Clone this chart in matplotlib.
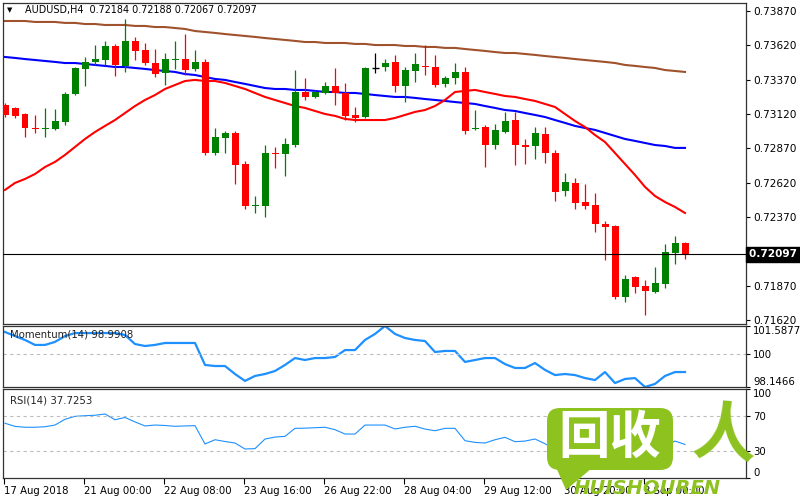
import numpy as np
import matplotlib.pyplot as plt
from matplotlib.patches import FancyBboxPatch, Polygon
from matplotlib.transforms import blended_transform_factory

# AUDUSD H4 candles
opens = [0.73186, 0.73164, 0.73120, 0.73018, 0.73011, 0.73011, 0.73062, 0.73266, 0.73448, 0.73499,
         0.73513, 0.73615, 0.73470, 0.73652, 0.73586, 0.73491, 0.73419, 0.73513, 0.73520, 0.73448,
         0.73499, 0.72836, 0.72945, 0.72982, 0.72756, 0.72450, 0.72450, 0.72836, 0.72829, 0.72894,
         0.73280, 0.73244, 0.73273, 0.73324, 0.73273, 0.73113, 0.73098, 0.73455, 0.73462, 0.73499,
         0.73324, 0.73433, 0.73470, 0.73462, 0.73339, 0.73382, 0.73426, 0.73011, 0.73025, 0.72894,
         0.72989, 0.73076, 0.72894, 0.72887, 0.72975, 0.72836, 0.72560, 0.72618, 0.72479, 0.72458,
         0.72319, 0.72305, 0.71788, 0.71933, 0.71868, 0.71824, 0.71883, 0.72108, 0.72184]
highs = [0.73200, 0.73171, 0.73127, 0.73113, 0.73164, 0.73157, 0.73280, 0.73462, 0.73535, 0.73622,
         0.73652, 0.73630, 0.73812, 0.73681, 0.73637, 0.73593, 0.73564, 0.73652, 0.73702, 0.73586,
         0.73520, 0.73018, 0.72996, 0.72996, 0.72778, 0.72523, 0.72894, 0.72880, 0.72945, 0.73440,
         0.73382, 0.73295, 0.73353, 0.73455, 0.73346, 0.73171, 0.73462, 0.73564, 0.73520, 0.73550,
         0.73462, 0.73564, 0.73622, 0.73550, 0.73397, 0.73491, 0.73462, 0.73149, 0.73040, 0.73047,
         0.73135, 0.73135, 0.72938, 0.73025, 0.73025, 0.72858, 0.72691, 0.72654, 0.72610, 0.72545,
         0.72341, 0.72312, 0.71948, 0.71941, 0.71912, 0.72006, 0.72174, 0.72232, 0.72188]
lows = [0.73098, 0.73091, 0.72953, 0.72982, 0.72953, 0.73004, 0.73040, 0.73258, 0.73324, 0.73477,
        0.73477, 0.73397, 0.73426, 0.73513, 0.73477, 0.73389, 0.73331, 0.73448, 0.73404, 0.73433,
        0.72822, 0.72822, 0.72836, 0.72610, 0.72428, 0.72399, 0.72370, 0.72727, 0.72669, 0.72880,
        0.73222, 0.73237, 0.73266, 0.73186, 0.73076, 0.73062, 0.73091, 0.73419, 0.73433, 0.73280,
        0.73207, 0.73353, 0.73404, 0.73317, 0.73317, 0.73339, 0.72975, 0.73004, 0.72734, 0.72865,
        0.72982, 0.72749, 0.72756, 0.72793, 0.72763, 0.72487, 0.72523, 0.72428, 0.72428, 0.72261,
        0.72057, 0.71773, 0.71751, 0.71817, 0.71657, 0.71817, 0.71853, 0.72028, 0.72067]
closes = [0.73113, 0.73106, 0.73018, 0.73011, 0.73018, 0.73069, 0.73266, 0.73455, 0.73499, 0.73520,
          0.73615, 0.73477, 0.73652, 0.73579, 0.73491, 0.73411, 0.73520, 0.73520, 0.73440, 0.73499,
          0.72836, 0.72953, 0.72982, 0.72749, 0.72450, 0.72458, 0.72836, 0.72829, 0.72902, 0.73280,
          0.73244, 0.73280, 0.73324, 0.73273, 0.73106, 0.73091, 0.73455, 0.73455, 0.73491, 0.73324,
          0.73440, 0.73484, 0.73462, 0.73331, 0.73382, 0.73426, 0.72996, 0.73018, 0.72894, 0.73004,
          0.73069, 0.72894, 0.72880, 0.72982, 0.72836, 0.72552, 0.72625, 0.72472, 0.72450, 0.72319,
          0.72297, 0.71788, 0.71919, 0.71861, 0.71832, 0.71890, 0.72115, 0.72181, 0.72097]

# moving averages
ma_red = [0.72567, 0.72618, 0.72647, 0.72683, 0.72734, 0.72771, 0.72822, 0.72880, 0.72938, 0.72989,
          0.73033, 0.73076, 0.73127, 0.73178, 0.73222, 0.73258, 0.73302, 0.73331, 0.73360, 0.73368,
          0.73360, 0.73360, 0.73346, 0.73324, 0.73302, 0.73273, 0.73244, 0.73222, 0.73200, 0.73178,
          0.73164, 0.73142, 0.73120, 0.73106, 0.73084, 0.73076, 0.73076, 0.73076, 0.73076, 0.73091,
          0.73113, 0.73135, 0.73149, 0.73178, 0.73222, 0.73280, 0.73288, 0.73295, 0.73280, 0.73266,
          0.73251, 0.73244, 0.73229, 0.73215, 0.73193, 0.73171, 0.73120, 0.73069, 0.73025, 0.72967,
          0.72916, 0.72836, 0.72756, 0.72676, 0.72589, 0.72523, 0.72479, 0.72443, 0.72399]
ma_blue = [0.73535, 0.73528, 0.73520, 0.73513, 0.73506, 0.73499, 0.73491, 0.73491, 0.73484, 0.73477,
           0.73470, 0.73462, 0.73462, 0.73455, 0.73448, 0.73440, 0.73433, 0.73426, 0.73411, 0.73404,
           0.73389, 0.73375, 0.73368, 0.73353, 0.73339, 0.73324, 0.73309, 0.73302, 0.73302, 0.73295,
           0.73295, 0.73288, 0.73280, 0.73280, 0.73273, 0.73273, 0.73266, 0.73258, 0.73251, 0.73244,
           0.73244, 0.73237, 0.73229, 0.73222, 0.73215, 0.73207, 0.73200, 0.73193, 0.73178, 0.73164,
           0.73149, 0.73142, 0.73127, 0.73113, 0.73098, 0.73076, 0.73055, 0.73033, 0.73018, 0.73004,
           0.72982, 0.72960, 0.72938, 0.72924, 0.72909, 0.72894, 0.72887, 0.72873, 0.72873]
ma_brown = [0.73797, 0.73797, 0.73797, 0.73790, 0.73790, 0.73790, 0.73783, 0.73783, 0.73775, 0.73775,
            0.73768, 0.73768, 0.73768, 0.73761, 0.73761, 0.73753, 0.73753, 0.73746, 0.73739, 0.73724,
            0.73717, 0.73710, 0.73702, 0.73695, 0.73688, 0.73681, 0.73673, 0.73666, 0.73659, 0.73652,
            0.73644, 0.73644, 0.73637, 0.73637, 0.73637, 0.73630, 0.73630, 0.73622, 0.73622, 0.73622,
            0.73615, 0.73615, 0.73608, 0.73608, 0.73601, 0.73601, 0.73593, 0.73586, 0.73579, 0.73571,
            0.73564, 0.73564, 0.73557, 0.73550, 0.73542, 0.73535, 0.73528, 0.73520, 0.73513, 0.73506,
            0.73499, 0.73491, 0.73477, 0.73470, 0.73462, 0.73455, 0.73440, 0.73433, 0.73426]

momentum = [101.25, 101.02, 100.80, 100.52, 100.52, 100.69, 101.02, 101.19, 101.19, 101.19,
            101.19, 101.19, 101.08, 100.57, 100.46, 100.52, 100.63, 100.63, 100.63, 100.63,
            99.39, 99.33, 99.33, 98.88, 98.49, 98.77, 98.88, 99.05, 99.39, 99.78,
            99.67, 99.78, 99.78, 99.84, 100.23, 100.23, 100.80, 101.14, 101.5877, 101.14,
            100.91, 100.80, 100.74, 100.12, 100.18, 100.18, 99.56, 99.67, 99.78, 99.78,
            99.44, 99.22, 99.22, 99.50, 99.11, 98.82, 98.88, 98.82, 98.65, 98.54,
            98.99, 98.37, 98.60, 98.65, 98.1466, 98.32, 98.77, 98.99, 98.9908]
rsi = [61.5, 58.0, 57.0, 57.0, 57.6, 59.5, 66.0, 69.3, 70.0, 70.5,
       71.9, 65.5, 68.0, 63.0, 58.5, 59.5, 59.0, 58.1, 58.5, 58.8,
       38.2, 43.0, 41.0, 39.3, 32.6, 33.0, 43.8, 46.0, 46.8, 55.8,
       56.0, 56.5, 57.0, 54.3, 49.4, 49.4, 59.5, 59.5, 59.5, 55.1,
       57.0, 58.1, 55.0, 53.1, 55.8, 55.8, 41.9, 40.0, 39.3, 43.0,
       45.7, 40.8, 41.5, 43.8, 38.5, 32.0, 34.0, 30.5, 30.0, 26.5,
       26.0, 20.5, 27.0, 26.0, 25.5, 28.0, 36.0, 41.5, 37.7253]

price_ticks = [0.73870, 0.73620, 0.73370, 0.73120, 0.72870, 0.72620, 0.72370, 0.72120, 0.71870, 0.71620]
mom_ticks = [98.1466, 100, 101.5877]
rsi_ticks = [0, 30, 70, 100]
date_labels = ["17 Aug 2018", "21 Aug 00:00", "22 Aug 08:00", "23 Aug 16:00", "26 Aug 22:00",
               "28 Aug 04:00", "29 Aug 12:00", "30 Aug 20:00", "3 Sep 00:00"]

o, h, l, c = map(np.array, (opens, highs, lows, closes))
x = np.arange(len(c))
xlim = (-0.2, 74.1)
fs = 7.3

fig = plt.figure(figsize=(8, 5), dpi=100)
ax = fig.add_axes([0.00375, 0.352, 0.92875, 0.642])
ax_mom = fig.add_axes([0.00375, 0.226, 0.92875, 0.122])
ax_rsi = fig.add_axes([0.00375, 0.044, 0.92875, 0.178])

# candles
colors = np.where(c > o, '#008000', np.where(c < o, '#FF0000', 'black'))
ax.vlines(x, l, h, colors=colors, lw=0.9, zorder=3)
ax.bar(x, np.abs(c - o), 0.7, bottom=np.minimum(o, c), color=colors, lw=0, zorder=3)
small = np.abs(c - o) < 0.00004
ax.hlines(c[small], x[small] - 0.35, x[small] + 0.35, colors=colors[small], lw=1, zorder=3)

ax.plot(x, ma_brown, color='#A0522D', lw=1.5, zorder=2)
ax.plot(x, ma_blue, color='#0000FF', lw=1.5, zorder=2)
ax.plot(x, ma_red, color='#FF0000', lw=1.5, zorder=2)
ax.axhline(c[-1], color='black', lw=0.8, zorder=4)

ax.set_xlim(*xlim)
ax.set_ylim(0.71591, 0.73928)
ax.yaxis.tick_right()
ax.set_yticks(price_ticks)
ax.set_yticklabels([f"{v:.5f}" for v in price_ticks])
ax.tick_params(axis='y', direction='out', length=3, pad=2, labelsize=7.6)
ax.tick_params(axis='x', bottom=False, labelbottom=False)
trans = blended_transform_factory(ax.transAxes, ax.transData)
ax.text(1.004, c[-1], f"{c[-1]:.5f}  ", transform=trans, ha='left', va='center',
        color='white', fontsize=7.6, fontweight='bold', clip_on=False, zorder=6,
        bbox=dict(facecolor='black', edgecolor='black', pad=1.8))
ax.text(0.006, 0.978, "▼", transform=ax.transAxes, fontsize=5, va='center', ha='left')
ax.text(0.0296, 0.978, f"AUDUSD,H4  {o[-1]:.5f} {h[-1]:.5f} {l[-1]:.5f} {c[-1]:.5f}",
        transform=ax.transAxes, fontsize=6.9, va='center', ha='left')

# momentum
ax_mom.plot(x, momentum, color='#1E90FF', lw=1.6)
ax_mom.axhline(100, color='#BDBDBD', lw=0.8, dashes=(3, 3))
ax_mom.set_xlim(*xlim)
ax_mom.set_ylim(mom_ticks[0], mom_ticks[-1])
ax_mom.yaxis.tick_right()
ax_mom.set_yticks(mom_ticks)
ax_mom.set_yticklabels(["98.1466", "100", "101.5877"])
ax_mom.tick_params(axis='y', direction='out', length=3, pad=2, labelsize=fs)
ax_mom.tick_params(axis='x', bottom=False, labelbottom=False)
labs = ax_mom.get_yticklabels()
labs[0].set_va('bottom')
labs[-1].set_va('top')
ax_mom.text(0.009, 0.86, f"Momentum(14) {momentum[-1]:.4f}", transform=ax_mom.transAxes,
            fontsize=fs, va='center', ha='left', color='#222222')

# rsi
ax_rsi.plot(x, rsi, color='#1E90FF', lw=0.8)
for lvl in (30, 70):
    ax_rsi.axhline(lvl, color='#BDBDBD', lw=0.8, dashes=(3, 3))
ax_rsi.set_xlim(*xlim)
ax_rsi.set_ylim(0, 100)
ax_rsi.yaxis.tick_right()
ax_rsi.set_yticks(rsi_ticks)
ax_rsi.set_yticklabels([str(v) for v in rsi_ticks])
ax_rsi.tick_params(axis='y', direction='out', length=3, pad=2, labelsize=fs)
labs = ax_rsi.get_yticklabels()
labs[0].set_va('bottom')
labs[-1].set_va('top')
ax_rsi.set_xticks(np.arange(len(date_labels)) * 8 - 0.1)
ax_rsi.set_xticklabels(date_labels)
ax_rsi.tick_params(axis='x', direction='out', length=4, pad=1.5, labelsize=fs)
for t in ax_rsi.get_xticklabels():
    t.set_ha('left')
ax_rsi.text(0.009, 0.87, f"RSI(14) {rsi[-1]:.4f}", transform=ax_rsi.transAxes,
            fontsize=fs, va='center', ha='left', color='#222222')

for a in (ax, ax_mom, ax_rsi):
    for s in a.spines.values():
        s.set_color('#333333')
        s.set_linewidth(0.9)

# watermark logo
wm = fig.add_axes([0, 0, 1, 1], zorder=10)
wm.set_xlim(0, 800)
wm.set_ylim(500, 0)
wm.axis('off')
wm.patch.set_alpha(0)
green = '#8DC21F'
wm.add_patch(FancyBboxPatch((547, 408), 126, 62, boxstyle="round,pad=0,rounding_size=13",
                            fc=green, ec='none'))
wm.add_patch(Polygon([(552, 458), (592, 468), (566, 490)], closed=True, fc=green, ec='none'))
wm.text(610, 437, "回收", fontsize=37, fontweight='bold', color='white', ha='center', va='center',
        family=['Noto Sans CJK SC', 'DejaVu Sans'])
wm.text(724, 436, "人", fontsize=46, fontweight='bold', color=green, ha='center', va='center',
        family=['Noto Sans CJK SC', 'DejaVu Sans'], rotation=-5)
wm.text(647, 488, "HUISHOUREN", fontsize=14, fontweight='bold', style='italic', color=green,
        ha='center', va='center')

fig.savefig('out.png', dpi=100)
